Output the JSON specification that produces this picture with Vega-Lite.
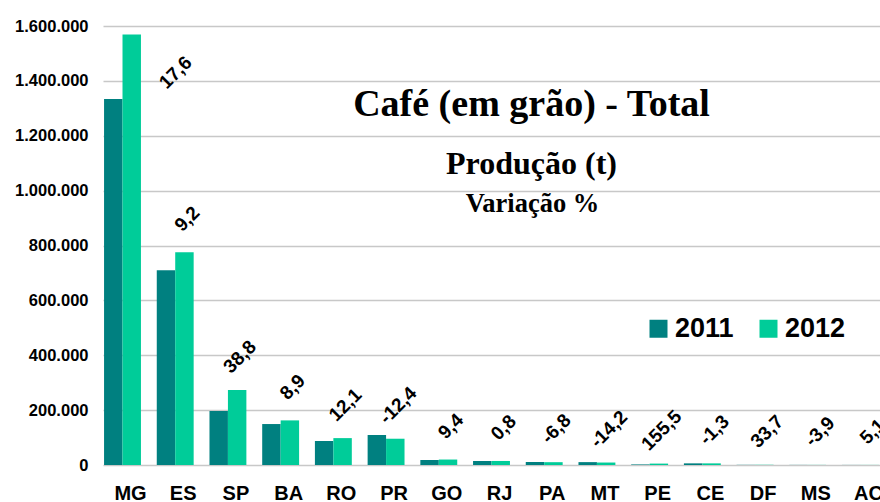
{
  "$schema": "https://vega.github.io/schema/vega-lite/v6.json",
  "width": 777,
  "height": 439,
  "autosize": {"type": "none"},
  "padding": {"left": 103, "top": 26, "right": 0, "bottom": 37},
  "background": "white",
  "config": {
    "locale": {"number": {"decimal": ",", "thousands": ".", "grouping": [3], "currency": ["R$", ""], "minus": "-"}},
    "view": {"stroke": null},
    "font": "Liberation Sans"
  },
  "title": {
    "text": "Café (em grão) - Total",
    "subtitle": "Produção (t)",
    "font": "Liberation Serif",
    "fontSize": 38,
    "fontWeight": "bold",
    "color": "black",
    "subtitleFont": "Liberation Serif",
    "subtitleFontSize": 32,
    "subtitleFontWeight": "bold",
    "subtitleColor": "black",
    "subtitlePadding": 25,
    "anchor": "middle",
    "frame": "group",
    "orient": "top",
    "offset": 0,
    "dx": 40,
    "dy": 162
  },
  "data": {
    "values": [
      {"uf": "MG", "ano": "2011", "t": 1334000},
      {"uf": "MG", "ano": "2012", "t": 1569000, "var": 17.6},
      {"uf": "ES", "ano": "2011", "t": 710000},
      {"uf": "ES", "ano": "2012", "t": 775300, "var": 9.2},
      {"uf": "SP", "ano": "2011", "t": 196700},
      {"uf": "SP", "ano": "2012", "t": 273000, "var": 38.8},
      {"uf": "BA", "ano": "2011", "t": 149300},
      {"uf": "BA", "ano": "2012", "t": 162600, "var": 8.9},
      {"uf": "RO", "ano": "2011", "t": 87400},
      {"uf": "RO", "ano": "2012", "t": 98000, "var": 12.1},
      {"uf": "PR", "ano": "2011", "t": 109300},
      {"uf": "PR", "ano": "2012", "t": 95750, "var": -12.4},
      {"uf": "GO", "ano": "2011", "t": 18200},
      {"uf": "GO", "ano": "2012", "t": 19900, "var": 9.4},
      {"uf": "RJ", "ano": "2011", "t": 14600},
      {"uf": "RJ", "ano": "2012", "t": 14700, "var": 0.8},
      {"uf": "PA", "ano": "2011", "t": 11000},
      {"uf": "PA", "ano": "2012", "t": 10250, "var": -6.8},
      {"uf": "MT", "ano": "2011", "t": 10500},
      {"uf": "MT", "ano": "2012", "t": 9000, "var": -14.2},
      {"uf": "PE", "ano": "2011", "t": 2000},
      {"uf": "PE", "ano": "2012", "t": 5100, "var": 155.5},
      {"uf": "CE", "ano": "2011", "t": 6000},
      {"uf": "CE", "ano": "2012", "t": 5920, "var": -1.3},
      {"uf": "DF", "ano": "2011", "t": 600},
      {"uf": "DF", "ano": "2012", "t": 800, "var": 33.7},
      {"uf": "MS", "ano": "2011", "t": 400},
      {"uf": "MS", "ano": "2012", "t": 385, "var": -3.9},
      {"uf": "AC", "ano": "2011", "t": 300},
      {"uf": "AC", "ano": "2012", "t": 315, "var": 5.1}
    ]
  },
  "encoding": {
    "x": {
      "field": "uf",
      "type": "nominal",
      "sort": null,
      "scale": {"paddingInner": 0.3, "paddingOuter": 0.02},
      "axis": {
        "domain": false,
        "ticks": false,
        "grid": false,
        "labelAngle": 0,
        "labelFont": "Liberation Sans",
        "labelFontSize": 20,
        "labelFontWeight": "bold",
        "labelColor": "black",
        "labelPadding": 18,
        "labelOffset": 8,
        "title": "Variação %",
        "titleFont": "Liberation Serif",
        "titleFontSize": 26.5,
        "titleFontWeight": "bold",
        "titleColor": "black",
        "titleAlign": "center",
        "titleBaseline": "alphabetic",
        "titleAngle": 0,
        "titleX": 429,
        "titleY": -254
      }
    },
    "y": {
      "field": "t",
      "type": "quantitative",
      "scale": {"domain": [0, 1600000], "nice": false},
      "axis": {
        "values": [0, 200000, 400000, 600000, 800000, 1000000, 1200000, 1400000, 1600000],
        "format": ",.0f",
        "grid": true,
        "gridColor": "#C8C8C8",
        "gridWidth": 1.5,
        "domain": false,
        "ticks": false,
        "labelPadding": 15,
        "labelFont": "Liberation Sans",
        "labelFontSize": 16.5,
        "labelFontWeight": "bold",
        "labelColor": "black",
        "title": null
      }
    }
  },
  "layer": [
    {
      "mark": {"type": "bar"},
      "encoding": {
        "xOffset": {"field": "ano", "type": "nominal", "scale": {"paddingInner": 0, "paddingOuter": 0}},
        "color": {
          "field": "ano",
          "type": "nominal",
          "scale": {"domain": ["2011", "2012"], "range": ["#008080", "#00CC99"]},
          "legend": {
            "orient": "none",
            "legendX": 542,
            "legendY": 289,
            "direction": "horizontal",
            "title": null,
            "symbolType": "square",
            "symbolSize": 324,
            "symbolStrokeWidth": 0,
            "labelFont": "Liberation Sans",
            "labelFontSize": 27,
            "labelFontWeight": "bold",
            "labelColor": "black",
            "labelOffset": 3,
            "columnPadding": 21,
            "padding": 0
          }
        }
      }
    },
    {
      "transform": [{"filter": "datum.ano == '2012' && datum.uf != 'MG'"}],
      "mark": {"type": "text", "angle": -45, "align": "center", "baseline": "middle", "fontSize": 19, "fontWeight": "bold", "color": "black", "dx": 32, "dy": -15},
      "encoding": {"text": {"field": "var", "type": "quantitative", "format": ".1f"}}
    },
    {
      "transform": [{"filter": "datum.ano == '2012' && datum.uf == 'MG'"}],
      "mark": {"type": "text", "angle": -45, "align": "center", "baseline": "middle", "fontSize": 19, "fontWeight": "bold", "color": "black", "dx": 10.6, "dy": 64.4},
      "encoding": {"text": {"field": "var", "type": "quantitative", "format": ".1f"}}
    }
  ]
}
